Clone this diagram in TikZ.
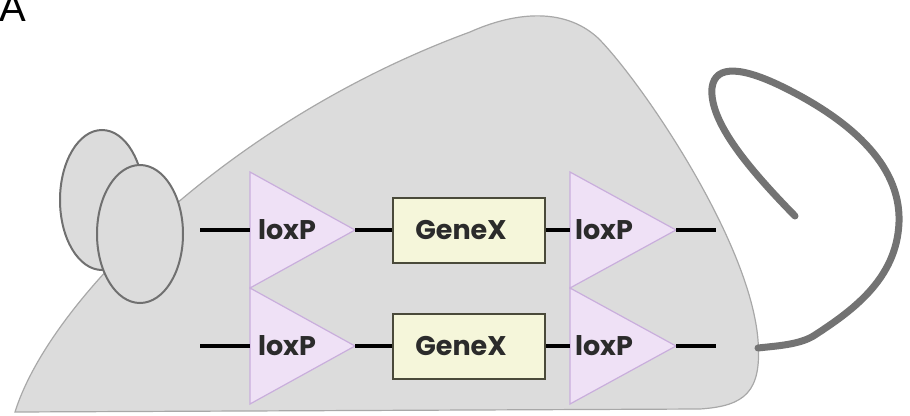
\documentclass[tikz,border=0pt]{standalone}
\usepackage{fontspec}
\newfontfamily\labelfont{Poppins}
\newfontfamily\panelfont{Liberation Sans}
\definecolor{bodygrey}{HTML}{DCDCDC}
\definecolor{bodyline}{HTML}{A8A8A8}
\definecolor{earline}{HTML}{707070}
\definecolor{tailgrey}{HTML}{737373}
\definecolor{loxfill}{HTML}{EFE1F6}
\definecolor{loxline}{HTML}{C9AEDC}
\definecolor{genefill}{HTML}{F5F6DA}
\definecolor{geneline}{HTML}{4A4A3A}
\definecolor{inkdark}{HTML}{2B2B2B}
\tikzset{
  mousebody/.style={fill=bodygrey, draw=bodyline, line width=1.2pt},
  ear/.style={fill=bodygrey, draw=earline, line width=2pt},
  tail/.style={draw=tailgrey, line width=7pt, line cap=round, line join=round},
  loxtri/.style={fill=loxfill, draw=loxline, line width=1.2pt, line join=miter},
  loxlabel/.style={font=\labelfont\bfseries\fontsize{27}{27}\selectfont, text=inkdark, inner sep=0pt},
  genebox/.style={fill=genefill, draw=geneline, line width=2pt, minimum width=152pt,
    minimum height=65pt, inner sep=0pt},
  genelabel/.style={font=\labelfont\bfseries\fontsize{27}{27}\selectfont, text=inkdark, inner sep=0pt},
  dna/.style={draw=black, line width=3.5pt}
}
\begin{document}
\begin{tikzpicture}[x=1pt, y=-1pt]
\useasboundingbox (0,0) rectangle (910,415);

% panel letter
\node[anchor=base west, inner sep=0pt, font=\panelfont\fontsize{40}{40}\selectfont] (panel) at (-1,21) {A};

% body
\path[mousebody] (15,412) .. controls (50,300) and (230,120) .. (470,32)
  .. controls (510,14) and (562,5) .. (598,38)
  .. controls (640,80) and (750,240) .. (758,340)
  .. controls (762,392) and (745,406) .. (700,409)
  -- cycle;

% tail
\coordinate (tailroot) at (758,348);
\draw[tail] (tailroot) .. controls (775,346) and (800,345) .. (815,335)
  .. controls (850,312) and (897,280) .. (899,222)
  .. controls (901,162) and (845,118) .. (785,88)
  .. controls (745,68) and (715,63) .. (712,88)
  .. controls (709,122) and (750,170) .. (795,216);

% ears
\draw[ear] (102,200) ellipse [x radius=42, y radius=70];
\draw[ear] (140,234) ellipse [x radius=43, y radius=69];

% loxP sites
\draw[loxtri] (250,172) -- (355,230) -- (250,288) -- cycle;
\draw[loxtri] (250,288) -- (355,346) -- (250,404) -- cycle;
\draw[loxtri] (570,172) -- (676,230) -- (570,288) -- cycle;
\draw[loxtri] (570,288) -- (676,346) -- (570,404) -- cycle;
\coordinate (l1w) at (250,230); \coordinate (l1e) at (355,230);
\coordinate (l2w) at (250,346); \coordinate (l2e) at (355,346);
\coordinate (r1w) at (570,230); \coordinate (r1e) at (676,230);
\coordinate (r2w) at (570,346); \coordinate (r2e) at (676,346);
\node[loxlabel] (lox1) at (287,230) {loxP};
\node[loxlabel] (lox2) at (287,346) {loxP};
\node[loxlabel] (lox3) at (604,230) {loxP};
\node[loxlabel] (lox4) at (604,346) {loxP};

% genes
\node[genebox] (gene1) at (469,230) {};
\node[genebox] (gene2) at (469,346) {};
\node[genelabel] (gene1txt) at (461,230) {GeneX};
\node[genelabel] (gene2txt) at (461,346) {GeneX};

% DNA strands
\coordinate (s1) at (200,230); \coordinate (e1) at (716,230);
\coordinate (s2) at (200,346); \coordinate (e2) at (716,346);
\draw[dna] (s1) -- (l1w);
\draw[dna] (l1e) -- (gene1.west);
\draw[dna] (gene1.east) -- (r1w);
\draw[dna] (r1e) -- (e1);
\draw[dna] (s2) -- (l2w);
\draw[dna] (l2e) -- (gene2.west);
\draw[dna] (gene2.east) -- (r2w);
\draw[dna] (r2e) -- (e2);
\end{tikzpicture}
\end{document}
